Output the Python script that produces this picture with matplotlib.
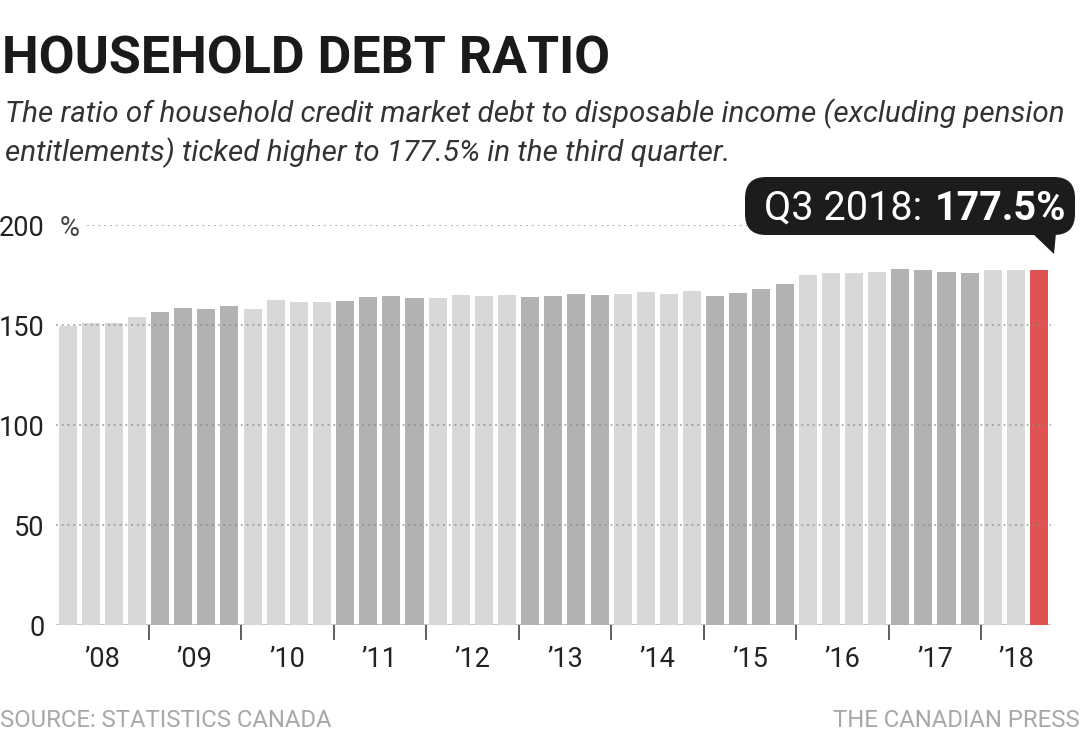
import matplotlib
matplotlib.use("Agg")
import matplotlib.pyplot as plt
from matplotlib import font_manager
from matplotlib.patches import FancyBboxPatch, Polygon
from matplotlib.transforms import Affine2D

# Household credit market debt / disposable income, %, Q1 2008 .. Q3 2018
years = ["’08", "’09", "’10", "’11", "’12", "’13", "’14", "’15", "’16", "’17", "’18"]
quarters_per_year = [4, 4, 4, 4, 4, 4, 4, 4, 4, 4, 3]
ratio = [149.6, 150.8, 150.8, 153.8,
         156.3, 158.5, 158.2, 159.5,
         158.0, 162.5, 161.7, 161.3,
         161.8, 163.8, 164.3, 163.7,
         163.7, 165.0, 164.7, 165.2,
         163.8, 164.5, 165.3, 165.0,
         165.5, 166.3, 165.7, 167.0,
         164.7, 166.2, 167.8, 170.3,
         175.2, 176.2, 175.8, 176.5,
         177.8, 177.5, 176.5, 175.8,
         177.5, 177.3, 177.5]
y_ticks = [0, 50, 100, 150, 200]
callout_label = "Q3 2018: "
callout_value = "177.5%"

LIGHT = "#d8d8d8"
DARK = "#b2b2b2"
RED = "#e05353"

installed = {f.name for f in font_manager.fontManager.ttflist}
BODY = "Roboto" if "Roboto" in installed else "DejaVu Sans"
NARROW = "Liberation Sans Narrow" if "Liberation Sans Narrow" in installed else BODY

W, H = 1080, 736
fig = plt.figure(figsize=(W / 100, H / 100), dpi=100)
fig.patch.set_facecolor("white")
px = Affine2D().scale(1, -1).translate(0, H)  # pixel coords, origin top-left
renderer = fig.canvas.get_renderer()


def fit_width(txt, width):
    w = txt.get_window_extent(renderer).width
    txt.set_fontsize(txt.get_fontsize() * width / w)
    return txt


# axes: y 0 at px 625, 2 px per unit
ax = fig.add_axes([56 / W, (H - 625) / H, 994.6 / W, 400 / H])

colors = []
for i, n in enumerate(quarters_per_year):
    colors += [DARK if i % 2 else LIGHT] * n
colors[-1] = RED
xs = list(range(len(ratio)))
ax.bar(xs, ratio, width=0.78, color=colors, zorder=2)

ax.set_xlim(-0.5, len(ratio) - 0.5)
ax.set_ylim(0, 200)
for s in ax.spines.values():
    s.set_visible(False)

# dotted gridlines drawn over the bars
for y in y_ticks[1:-1]:
    ax.axhline(y, color="#8a8a8a", lw=1.3, ls=(0, (1, 2.2)), alpha=0.75, zorder=3)
ax.axhline(200, xmin=0.031, color="#8a8a8a", lw=1.3, ls=(0, (1, 2.2)), alpha=0.75, zorder=3)
ax.axhline(0, color="#c4c4c4", lw=1.5, zorder=1)

# year labels centred, tick marks at year boundaries
centers, bounds = [], []
start = 0
for n in quarters_per_year:
    centers.append(start + (n - 1) / 2)
    start += n
    bounds.append(start - 0.5)
ax.set_xticks(centers)
ax.set_xticklabels(years, fontsize=19.5, family=BODY, color="#222222")
ax.set_xticks(bounds[:-1], minor=True)
ax.tick_params(axis="x", which="major", length=0, pad=15)
ax.tick_params(axis="x", which="minor", length=11, width=1.1, color="#333333")

ax.set_yticks(y_ticks)
ax.set_yticklabels([str(v) for v in y_ticks], fontsize=19.5, family=BODY, color="#222222")
ax.tick_params(axis="y", length=0, pad=8)
ax.text(-0.35, 200, "%", transform=ax.transData, fontsize=19.5, family=BODY,
        color="#444444", va="center_baseline", ha="left")

# title and subtitle
title = fig.text(2, 74, "HOUSEHOLD DEBT RATIO", transform=px, fontsize=40,
                 fontweight="bold", family=NARROW, color="#1a1a1a", va="baseline")
fit_width(title, 608)
sub1 = fig.text(5, 122, "The ratio of household credit market debt to disposable income (excluding pension",
                transform=px, fontsize=20, style="italic", family=BODY, color="#333333",
                va="baseline")
fit_width(sub1, 1060)
fig.text(5, 161, "entitlements) ticked higher to 177.5% in the third quarter.", transform=px,
         fontsize=sub1.get_fontsize(), style="italic", family=BODY, color="#333333",
         va="baseline")

# callout
box = FancyBboxPatch((745, 177), 330, 58, boxstyle="round,pad=0,rounding_size=21",
                     transform=px, facecolor="#1c1c1c", edgecolor="none", zorder=5)
fig.add_artist(box)
fig.add_artist(Polygon([(1032, 233), (1056, 233), (1054, 254)], closed=True,
                       transform=px, facecolor="#1c1c1c", edgecolor="none", zorder=5))
val = fig.text(1066, 220, callout_value, transform=px, fontsize=28.5, fontweight="bold",
               family=BODY, color="white", ha="right", va="baseline", zorder=6)
vb = val.get_window_extent(renderer)
fig.text(vb.x0 - 2, H - 220, callout_label, fontsize=28.5, family=BODY, color="white",
         ha="right", va="baseline", transform=None, zorder=6)

# footer
src = fig.text(0, 727, "SOURCE: STATISTICS CANADA", transform=px, fontsize=16,
               family=BODY, color="#a8a8a8", va="baseline")
fit_width(src, 332)
fig.text(1080, 727, "THE CANADIAN PRESS", transform=px, fontsize=src.get_fontsize(),
         family=BODY, color="#a8a8a8", va="baseline", ha="right")

fig.savefig("out.png", dpi=100, facecolor="white")
